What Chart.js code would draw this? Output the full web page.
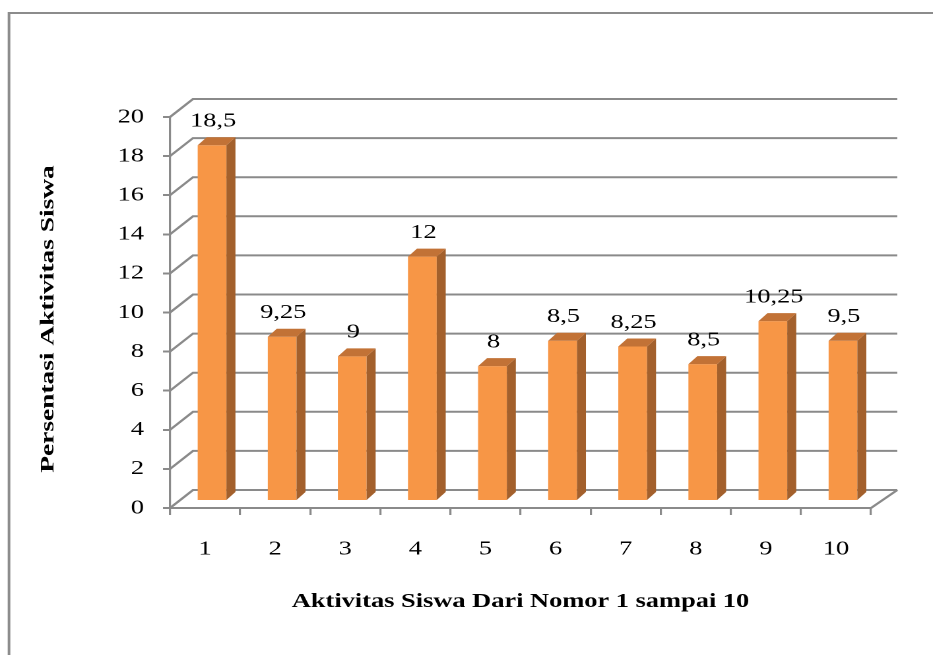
<!DOCTYPE html>
<html>
<head>
<meta charset="utf-8">
<script src="https://cdn.jsdelivr.net/npm/chart.js@4/dist/chart.umd.min.js"></script>
<style>
  html, body { margin: 0; padding: 0; background: #fff; overflow: hidden; }
  #page { position: relative; width: 933px; height: 655px; overflow: hidden; }
  #wrap { position: absolute; left: 0; top: 0; width: 707px; height: 655px;
          transform-origin: 0 0; transform: scaleX(1.3196); }
</style>
</head>
<body>
<div id="page"><div id="wrap"><canvas id="c" width="707" height="655"></canvas></div></div>
<script>
// ---- data ----
const categories = ['1', '2', '3', '4', '5', '6', '7', '8', '9', '10'];
// bar heights as drawn against the axis
const barHeights = [18.2, 8.4, 7.4, 12.5, 6.9, 8.2, 7.9, 7.0, 9.2, 8.2];
// values printed above the bars
const labelValues = [18.5, 9.25, 9, 12, 8, 8.5, 8.25, 8.5, 10.25, 9.5];
const yTicks = [0, 2, 4, 6, 8, 10, 12, 14, 16, 18, 20];
const xTitle = 'Aktivitas Siswa Dari Nomor 1 sampai 10';
const yTitle = 'Persentasi Aktivitas Siswa';

const SX = 1.3196;                 // horizontal stretch of the picture
const FONT = "'Liberation Serif', 'Times New Roman', serif";
const GRID = '#8a8a8a';
const DEPTH_X = 23 / SX, DEPTH_Y = 18;   // back wall offset
const BAR_DX = 7 / SX, BAR_DY = 7;       // bar placement depth
const SIDE_X = 9 / SX, SIDE_Y = 8;       // bar thickness in depth

const threeD = {
  id: 'threeD',
  beforeDraw(chart) {
    const ctx = chart.ctx;
    ctx.save();
    ctx.strokeStyle = '#8c8c8c';
    ctx.lineWidth = 2;
    ctx.beginPath();
    ctx.moveTo(9 / SX, 700); ctx.lineTo(9 / SX, 13); ctx.lineTo(760, 13);
    ctx.stroke();
    ctx.restore();
    // rotated y-axis title
    ctx.save();
    ctx.translate(48 / SX, 319);
    ctx.rotate(-Math.PI / 2);
    ctx.scale(1.37, 1 / SX);
    ctx.font = 'bold 20px ' + FONT;
    ctx.fillStyle = '#000';
    ctx.textAlign = 'center';
    ctx.textBaseline = 'middle';
    ctx.fillText(yTitle, 0, 0);
    ctx.restore();
  },
  beforeDatasetsDraw(chart) {
    const ctx = chart.ctx;
    const ys = chart.scales.y, area = chart.chartArea;
    ctx.save();
    ctx.strokeStyle = GRID;
    ctx.lineWidth = 2;
    ys.ticks.forEach(t => {
      const y = ys.getPixelForValue(t.value);
      ctx.beginPath();
      ctx.moveTo(area.left, y);
      ctx.lineTo(area.left + DEPTH_X, y - DEPTH_Y);
      ctx.lineTo(area.right + DEPTH_X + 2.5, y - DEPTH_Y);
      ctx.stroke();
    });
    const y0 = ys.getPixelForValue(0);
    ctx.beginPath();
    ctx.moveTo(area.right, y0);
    ctx.lineTo(area.right + DEPTH_X + 2.5, y0 - DEPTH_Y);
    ctx.stroke();
    ctx.restore();
    ctx.save();
    ctx.translate(BAR_DX, -BAR_DY);
  },
  afterDatasetsDraw(chart) {
    const ctx = chart.ctx;
    const meta = chart.getDatasetMeta(0);
    meta.data.forEach((bar, i) => {
      const p = bar.getProps(['x', 'y', 'base', 'width'], true);
      const l = p.x - p.width / 2, r = p.x + p.width / 2;
      // side face
      ctx.fillStyle = '#A3602C';
      ctx.beginPath();
      ctx.moveTo(r, p.y);
      ctx.lineTo(r + SIDE_X, p.y - SIDE_Y);
      ctx.lineTo(r + SIDE_X, p.base - SIDE_Y);
      ctx.lineTo(r, p.base);
      ctx.closePath();
      ctx.fill();
      // top face
      ctx.fillStyle = '#C27236';
      ctx.beginPath();
      ctx.moveTo(l, p.y);
      ctx.lineTo(l + SIDE_X, p.y - SIDE_Y);
      ctx.lineTo(r + SIDE_X, p.y - SIDE_Y);
      ctx.lineTo(r, p.y);
      ctx.closePath();
      ctx.fill();
      // value label
      ctx.fillStyle = '#000';
      ctx.font = '20px ' + FONT;
      ctx.textAlign = 'center';
      ctx.textBaseline = 'middle';
      ctx.fillText(String(labelValues[i]).replace('.', ','), p.x + 1 / SX, p.y - 24);
    });
    ctx.restore();
  }
};

new Chart(document.getElementById('c'), {
  type: 'bar',
  data: {
    labels: categories,
    datasets: [{
      data: barHeights,
      backgroundColor: '#F79646',
      borderWidth: 0,
      categoryPercentage: 1,
      barPercentage: 0.41
    }]
  },
  options: {
    responsive: false,
    animation: false,
    devicePixelRatio: 2,
    layout: { padding: { top: 117, right: 707 - 871 / SX, left: 0, bottom: 0 } },
    plugins: { legend: { display: false }, tooltip: { enabled: false } },
    scales: {
      x: {
        grid: { display: true, drawOnChartArea: false, drawTicks: true, tickLength: 7, color: GRID, lineWidth: 1.6, offset: true },
        border: { display: true, color: GRID, width: 2 },
        ticks: { color: '#000', font: { family: FONT, size: 20 }, padding: 22, maxRotation: 0 },
        title: { display: true, text: xTitle, color: '#000', font: { family: FONT, size: 20, weight: 'bold' }, padding: { top: 41, bottom: 41 } },
        afterFit(s) { s.height = 147; }
      },
      y: {
        min: 0, max: 20,
        afterBuildTicks(s) { s.ticks = yTicks.map(v => ({ value: v })); },
        grid: { display: true, drawOnChartArea: false, drawTicks: true, tickLength: 7 / SX, color: GRID, lineWidth: 2 },
        border: { display: true, color: GRID, width: 1.6 },
        ticks: { color: '#000', font: { family: FONT, size: 20 }, padding: 19 / SX },
        title: { display: false },
        afterFit(s) { s.width = 170 / SX; }
      }
    }
  },
  plugins: [threeD]
});
</script>
</body>
</html>
